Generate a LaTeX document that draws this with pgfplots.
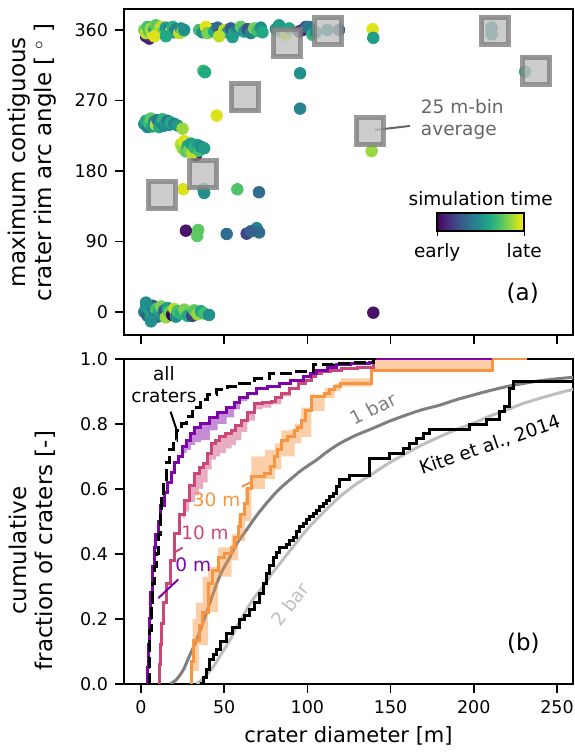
\documentclass[border=0pt]{standalone}
\usepackage{fontspec}
\setmainfont{DejaVu Sans}
\usepackage{pgfplots}
\usepackage{pgfplotstable}
\pgfplotsset{compat=1.18}

\definecolor{pzero}{HTML}{7E03A8}
\definecolor{pten}{HTML}{CC4778}
\definecolor{pthirty}{HTML}{F89540}
\definecolor{onebar}{HTML}{7F7F7F}
\definecolor{twobar}{HTML}{BEBEBE}
\definecolor{annotgray}{HTML}{666666}

% crater diameter [m], arc angle [deg], simulation time (0 early .. 1 late)
\pgfplotstableread{
d a c
3 352 0.05
5 349 0.1
2 360 0.8
3 356 0.9
4 364 0.7
5 358 0.75
6 362 0.85
7 355 0.95
8 360 0.6
9 366 0.75
10 357 0.8
11 361 0.8
12 364 0.9
13 356 0.7
14 359 0.75
15 363 0.55
16 355 0.85
17 361 0.45
18 358 0.95
19 364 0.65
20 357 0.5
21 361 0.45
22 359 0.45
23 356 0.9
24 362 0.5
25 358 0.85
26 360 0.5
8 352 0.95
15 352 0.6
42 361 0.1
35 360 0.7
37 357 0.5
39 364 0.95
40 356 0.8
44 358 0.6
46 363 0.35
48 355 0.1
50 360 0.9
52 357 0.55
54 362 0.3
56 356 0.6
58 360 0.4
60 364 0.75
62 358 0.55
64 361 0.25
66 356 0.45
68 362 0.8
70 359 0.7
72 363 0.5
73 357 0.6
47 352 0.9
55 351 0.55
81 361 0.5
83 366 0.55
85 357 0.55
87 354 0.95
89 362 0.6
95 358 0.05
97 360 0.1
99 364 0.3
101 364 0.4
103 354 0.65
105 357 0.5
112 360 0.5
119 360 0.3
139.2 361 0.95
139.6 350 0.55
210.7 363 0.45
210.7 354.5 0.45
37.5 308 0.7
38.5 306 0.6
95.6 304.7 0.5
95.6 259.6 0.45
45.5 250.6 0.95
138.6 205.5 0.85
230.8 306.8 0.65
2 240 0.5
3 244 0.6
4 236 0.45
5 241 0.7
6 247 0.75
7 237 0.55
8 243 0.5
9 239 0.9
10 245 0.4
11 236 0.6
12 242 0.5
13 246 0.65
14 238 0.45
15 241 0.55
16 244 0.4
17 239 0.5
18 242 0.6
20 240 0.45
22 238 0.55
25 234 0.85
33 200 0.05
24 214 0.9
25 209 0.85
26 218 0.95
27 205 0.75
28 212 0.6
29 207 0.8
30 215 0.55
31 203 0.9
32 210 0.65
34 213 0.55
35 206 0.7
36 211 0.5
38 209 0.55
25.4 156.6 0.95
37.5 157 0.6
38 152 0.5
57.9 156.6 0.72
70.9 152.8 0.35
27 103.8 0.05
34.4 104.6 0.75
33.8 97 0.75
51.5 99.6 0.35
63.5 100 0.2
69.5 107 0.45
71 101.5 0.35
66 103 0.3
2 0 0.4
3 6 0.5
4 -5 0.3
5 3 0.55
6 -8 0.6
7 8 0.25
8 -2 0.45
9 4 0.7
10 -6 0.35
11 1 0.6
12 7 0.8
13 -4 0.5
14 2 0.3
15 -7 0.85
16 5 0.55
17 0 0.75
18.8 -3.8 0.0
20 4 0.9
21 -6 0.5
22 1 0.7
24 -2 0.65
26 3 0.8
28 -5 0.6
30.8 -5 0.2
32 2 0.75
34 -3 0.85
36 1 0.6
38 -2 0.7
40.9 -3.8 0.5
3 12 0.5
6 -12 0.5
139.6 -0.9 0.05
}\craters

\pgfplotstableread{
d a
12.5 149
37.5 176
62.5 274
87.5 344
112.5 359
137.5 231
212.5 359
237.5 308
}\binavg

\pgfplotstableread{
d f
4.4 0
5 0.08
5.4 0.166
6.2 0.25
7 0.31
8.4 0.36
9.4 0.402
10.5 0.46
11.5 0.52
12.5 0.57
13.4 0.628
15.4 0.68
17.4 0.72
19.4 0.75
21.4 0.78
24.4 0.80
27.4 0.822
31 0.85
35.5 0.874
40 0.89
45.5 0.905
52 0.915
59.5 0.925
68 0.94
77.5 0.956
93.5 0.961
103.5 0.982
115.5 0.985
127.5 0.99
139.5 1.0
141 1.0
}\allcraters

\pgfplotstableread{
d f
3.4 0
4.0 0.05
4.6 0.12
5.2 0.2
6.0 0.28
7.0 0.36
8.0 0.42
9.0 0.46
10.4 0.50
12.0 0.55
14.0 0.59
16.0 0.62
18.4 0.65
20.4 0.68
22.4 0.70
25.0 0.73
27.4 0.75
30.0 0.77
32.4 0.79
36.0 0.80
41.4 0.82
46.0 0.835
51.4 0.85
56.0 0.865
59.4 0.88
64.0 0.895
69.4 0.91
76.0 0.915
83.4 0.925
90.0 0.935
97.4 0.946
102.0 0.955
105.4 0.966
112.0 0.975
117.4 0.982
126.0 0.985
137.4 0.99
139.6 1.0
211.2 1.0
}\zerom

\pgfplotstableread{
d f
10.4 0
11.0 0.06
11.6 0.12
12.4 0.187
13.5 0.25
15.4 0.31
17.5 0.38
20.4 0.464
23 0.52
26.4 0.566
29 0.61
32.4 0.648
35 0.665
37.4 0.679
40 0.71
42.4 0.74
45 0.75
47.4 0.761
51 0.77
54.4 0.78
57 0.795
60.4 0.812
64 0.835
68.4 0.864
73 0.867
78.4 0.87
81 0.88
84.4 0.894
89 0.91
94.4 0.925
99 0.935
102.4 0.946
105 0.955
108.4 0.961
114 0.965
120.4 0.97
130 0.975
139.6 1.0
211.2 1.0
}\tenm

\pgfplotstableread{
d f
29.4 0
30.5 0.07
31.4 0.135
33 0.135
35 0.18
37 0.22
40.4 0.31
43 0.35
46.4 0.39
50 0.40
54.4 0.42
56 0.45
58.4 0.484
60 0.52
62.4 0.556
64 0.60
66.4 0.638
74.4 0.648
78 0.67
80.4 0.70
82 0.72
84.4 0.75
88 0.76
92.4 0.78
94 0.79
96.4 0.81
99 0.84
102.4 0.884
110.4 0.894
113 0.905
116.4 0.915
120 0.925
138.6 0.966
211.2 1.0
232 1.0
}\thirtym

% spread bands: upper edge forward, lower edge back
\pgfplotstableread{
d f
29.4 0.05
31 0.05
31 0.2
33 0.2
33 0.25
37 0.25
37 0.33
40.4 0.33
40.4 0.36
46.4 0.36
46.4 0.42
54.4 0.42
54.4 0.46
58.4 0.46
58.4 0.52
62.4 0.52
62.4 0.6
66.4 0.6
66.4 0.7
74.4 0.7
74.4 0.72
80.4 0.72
80.4 0.74
84.4 0.74
84.4 0.78
92.4 0.78
92.4 0.8
96.4 0.8
96.4 0.85
102.4 0.85
102.4 0.89
110.4 0.89
110.4 0.91
116.4 0.91
116.4 0.925
120 0.925
120 0.94
138.6 0.94
138.6 1.0
232 1.0
211.2 1.0
211.2 0.966
138.6 0.966
138.6 0.915
120 0.915
120 0.9
116.4 0.9
116.4 0.88
110.4 0.88
110.4 0.84
102.4 0.84
102.4 0.76
96.4 0.76
96.4 0.74
92.4 0.74
92.4 0.7
84.4 0.7
84.4 0.66
80.4 0.66
80.4 0.63
74.4 0.63
74.4 0.6
66.4 0.6
66.4 0.5
62.4 0.5
62.4 0.44
58.4 0.44
58.4 0.38
54.4 0.38
54.4 0.33
46.4 0.33
46.4 0.22
40.4 0.22
40.4 0.12
35 0.12
35 0.04
31.4 0.04
31.4 0
29.4 0
}\thirtyband

\pgfplotstableread{
d f
25 0.52
26.4 0.52
26.4 0.566
29 0.566
29 0.61
32.4 0.61
32.4 0.648
35 0.648
35 0.665
37.4 0.665
37.4 0.679
40 0.679
40 0.71
42.4 0.71
42.4 0.74
45 0.74
45 0.75
47.4 0.75
47.4 0.761
51 0.761
51 0.77
54.4 0.77
54.4 0.78
57 0.78
57 0.795
60.4 0.795
60.4 0.812
64 0.812
64 0.835
68.4 0.835
68.4 0.864
73 0.864
73 0.867
78.4 0.867
78.4 0.87
81 0.87
81 0.88
84.4 0.88
84.4 0.894
89 0.894
89 0.91
90 0.91
90 0.885
84.4 0.885
84.4 0.86
78.4 0.86
78.4 0.85
73 0.85
73 0.845
68.4 0.845
68.4 0.81
64 0.81
64 0.775
60.4 0.775
60.4 0.75
57 0.75
57 0.735
54.4 0.735
54.4 0.725
51 0.725
51 0.71
47.4 0.71
47.4 0.70
45 0.70
45 0.69
42.4 0.69
42.4 0.66
40 0.66
40 0.62
37.4 0.62
37.4 0.60
35 0.60
35 0.58
32.4 0.58
32.4 0.56
29 0.56
29 0.53
26.4 0.53
26.4 0.51
25 0.51
}\tenband

\pgfplotstableread{
d f
25 0.73
27.4 0.73
27.4 0.75
30 0.75
30 0.77
32.4 0.77
32.4 0.79
36 0.79
36 0.80
41.4 0.80
41.4 0.82
46 0.82
46 0.835
51.4 0.835
51.4 0.85
56 0.85
56 0.865
59.4 0.865
59.4 0.88
64 0.88
64 0.87
59.4 0.87
59.4 0.845
56 0.845
56 0.82
51.4 0.82
51.4 0.80
46 0.80
46 0.78
41.4 0.78
41.4 0.75
36 0.75
36 0.745
32.4 0.745
32.4 0.735
30 0.735
30 0.72
27.4 0.72
27.4 0.71
25 0.71
}\zeroband

\pgfplotstableread{
d f
17.4 0
21 0.012
25.4 0.043
29 0.085
33.4 0.135
38 0.2
43.4 0.279
48 0.34
53.4 0.39
58 0.435
63.4 0.474
69 0.515
75.4 0.556
82 0.594
89.4 0.628
97 0.66
105.4 0.689
112 0.715
119.4 0.74
129 0.765
139.5 0.787
149 0.808
159.6 0.828
169 0.844
179.6 0.858
189 0.874
199.6 0.889
209 0.902
219.7 0.915
229 0.924
239.7 0.933
250 0.939
260 0.944
}\onebarcdf

\pgfplotstableread{
d f
33.4 0
38 0.02
43.4 0.053
48 0.09
53.4 0.135
58 0.18
63.4 0.228
68 0.265
73.4 0.3
78 0.335
83.4 0.37
91 0.42
99.5 0.474
109 0.525
119.4 0.576
129 0.614
139.5 0.648
149 0.68
159.6 0.71
169 0.736
179.6 0.761
189 0.782
199.6 0.802
209 0.823
219.7 0.843
229 0.862
239.7 0.879
250 0.894
260 0.907
}\twobarcdf

\pgfplotstableread{
d f
35.4 0
37.4 0.02
39.4 0.045
41.4 0.074
43.4 0.09
45.4 0.105
48 0.13
51.4 0.156
55 0.175
59.4 0.197
62 0.21
65.4 0.228
68 0.25
71.4 0.279
73.5 0.31
75.4 0.34
77.5 0.365
79.4 0.39
81.5 0.405
83.4 0.42
87.4 0.43
89.4 0.44
91.4 0.45
93.5 0.47
95.4 0.484
97.5 0.495
99.5 0.505
101.5 0.515
103.4 0.525
105.5 0.535
107.4 0.546
109.5 0.556
111.4 0.566
113.5 0.576
115.4 0.587
117.5 0.607
119.4 0.628
125.5 0.643
137.5 0.694
149.6 0.71
157.6 0.726
161.6 0.74
165.6 0.756
169.6 0.77
173.6 0.782
197.6 0.797
207.6 0.813
215.6 0.838
218.6 0.853
221.6 0.91
223.6 0.93
260 0.93
}\kite

\pgfplotsset{
  panel/.style={
    width=224.5pt, scale only axis, xmin=-10.2, xmax=259.6,
    axis line style={line width=0.8pt},
    tick align=outside, tick pos=left, major tick length=4.5pt,
    every tick/.style={black, line width=0.7pt},
    tick label style={font=\fontsize{8.75}{10}\selectfont},
    /pgf/number format/assume math mode=true,
    xtick={0,50,...,250},
    xlabel style={font=\fontsize{10.5}{12}\selectfont},
    ylabel style={font=\fontsize{11.5}{13}\selectfont},
  },
}
\tikzset{annot/.style={font=\fontsize{9.25}{11}\selectfont}}

\begin{document}
\begin{tikzpicture}
\path[use as bounding box] (-62pt,-34.5pt) rectangle (225pt,342pt);

% (a) arc angle against diameter
\begin{axis}[panel, at={(0,174.5pt)}, anchor=south west, height=163pt,
  ymin=-29.4, ymax=386.8, ytick={0,90,180,270,360}, xticklabels={},
  ylabel style={at={(axis description cs:-0.204,0.53)}, anchor=center, align=center},
  ylabel={maximum contiguous\\crater rim arc angle [ $^\circ$ ]},
  colormap/viridis, point meta min=0, point meta max=1,
  colorbar horizontal,
  colorbar style={at={(parent axis.south west)}, anchor=center,
    xshift=178.35pt, yshift=65pt, width=43.5pt, height=9pt, scale only axis,
    xtick={0,1}, xticklabels={early,late}, ytick=\empty,
    xtick pos=left, tick align=outside, major tick length=2.5pt,
    every tick/.style={black, line width=0.7pt},
    axis line style={line width=0.9pt},
    tick label style={font=\fontsize{9.25}{11}\selectfont},
    title={simulation time},
    title style={font=\fontsize{9.25}{11}\selectfont, yshift=-6pt}},
]
\addplot[scatter, only marks, mark=*, mark size=2.9pt, scatter src=explicit,
  scatter/use mapped color={draw=mapped color, fill=mapped color}]
  table[x=d, y=a, meta=c] {\craters};
\addplot[only marks, mark=square*, mark size=6.75pt,
  mark options={draw=black!50, fill=lightgray, line width=2.5pt,
    draw opacity=0.8, fill opacity=0.8}]
  table[x=d, y=a] {\binavg};
\draw[annotgray, line width=1pt] (axis cs:140.6,232.3) -- (axis cs:161.7,237.5);
\node[annot, text=annotgray, anchor=west, align=left] at (axis cs:164,246) {25 m-bin\\average};
\node[font=\fontsize{11.5}{13}\selectfont] at (axis cs:229.4,23.9) {(a)};
\end{axis}

% (b) cumulative size distributions
\begin{axis}[panel, at={(0,0)}, anchor=south west, height=162.5pt,
  ymin=0, ymax=1, ytick={0,0.2,...,1},
  yticklabel style={/pgf/number format/fixed, /pgf/number format/precision=1,
    /pgf/number format/fixed zerofill},
  xlabel={crater diameter [m]},
  ylabel style={at={(axis description cs:-0.204,0.41)}, anchor=center, align=center},
  ylabel={cumulative\\fraction of craters [-]},
]
\addplot[twobar, line width=1.5pt, smooth] table[x=d, y=f] {\twobarcdf};
\addplot[onebar, line width=1.5pt, smooth] table[x=d, y=f] {\onebarcdf};

\addplot[draw=none, fill=pthirty, fill opacity=0.45] table[x=d, y=f] {\thirtyband} -- cycle;
\addplot[draw=none, fill=pten, fill opacity=0.45] table[x=d, y=f] {\tenband} -- cycle;
\addplot[draw=none, fill=pzero, fill opacity=0.45] table[x=d, y=f] {\zeroband} -- cycle;

\addplot[const plot, black, line width=1.5pt] table[x=d, y=f] {\kite};
\addplot[const plot, pthirty, line width=1.5pt] table[x=d, y=f] {\thirtym};
\addplot[const plot, pten, line width=1.5pt] table[x=d, y=f] {\tenm};
\addplot[const plot, pzero, line width=1.5pt] table[x=d, y=f] {\zerom};
\addplot[const plot, black, line width=1.5pt, dash pattern=on 6pt off 2.5pt] table[x=d, y=f] {\allcraters};

\node[annot, align=center] at (axis cs:13.8,0.92) {all\\craters};
\draw[black, line width=1pt] (axis cs:17.8,0.838) -- (axis cs:21.4,0.782);
\node[annot, text=pthirty] at (axis cs:45.5,0.566) {30 m};
\draw[pthirty, line width=1pt] (axis cs:60.5,0.607) -- (axis cs:66.5,0.622);
\node[annot, text=pten] at (axis cs:38.5,0.466) {10 m};
\draw[pten, line width=1pt] (axis cs:21,0.407) -- (axis cs:25,0.42);
\node[annot, text=pzero] at (axis cs:31.4,0.366) {0 m};
\draw[pzero, line width=1pt] (axis cs:10.4,0.264) -- (axis cs:22.4,0.322);
\node[annot, text=onebar, rotate=27] at (axis cs:139.6,0.848) {1 bar};
\node[annot, text=twobar, rotate=52] at (axis cs:89.5,0.246) {2 bar};
\node[annot, rotate=19] at (axis cs:209.7,0.735) {Kite et al., 2014};
\node[font=\fontsize{11.5}{13}\selectfont] at (axis cs:229.8,0.125) {(b)};
\end{axis}
\end{tikzpicture}
\end{document}
